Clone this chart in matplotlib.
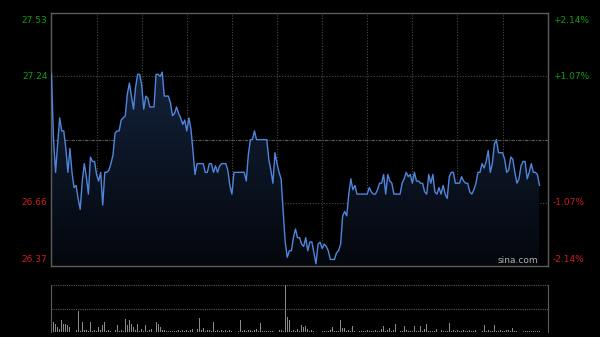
import numpy as np
import matplotlib.pyplot as plt
from matplotlib.patches import Polygon

# minute-by-minute price (one value per minute from the open)
prices = [
    27.25, 26.95, 26.80, 26.93, 27.05, 26.99, 26.99, 26.91, 26.80, 26.91,
    26.80, 26.73, 26.74, 26.68, 26.63, 26.76, 26.84, 26.78, 26.70, 26.87,
    26.85, 26.85, 26.79, 26.76, 26.80, 26.65, 26.80, 26.80, 26.81, 26.84,
    26.88, 26.98, 26.99, 26.99, 27.04, 27.05, 27.06, 27.16, 27.21, 27.15,
    27.09, 27.19, 27.25, 27.25, 27.20, 27.09, 27.15, 27.14, 27.10, 27.10,
    27.10, 27.25, 27.25, 27.24, 27.26, 27.15, 27.15, 27.15, 27.12, 27.06,
    27.07, 27.10, 27.07, 27.05, 27.02, 27.04, 26.99, 27.05, 27.00, 26.90,
    26.79, 26.84, 26.84, 26.84, 26.84, 26.80, 26.80, 26.84, 26.84, 26.80,
    26.83, 26.80, 26.83, 26.84, 26.84, 26.84, 26.81, 26.74, 26.70, 26.80,
    26.80, 26.80, 26.80, 26.80, 26.80, 26.76, 26.88, 26.95, 26.95, 26.99,
    26.95, 26.95, 26.95, 26.95, 26.95, 26.95, 26.86, 26.81, 26.75, 26.89,
    26.84, 26.80, 26.77, 26.62, 26.48, 26.41, 26.44, 26.44, 26.50, 26.54,
    26.50, 26.50, 26.47, 26.46, 26.50, 26.44, 26.48, 26.48, 26.43, 26.38,
    26.47, 26.48, 26.45, 26.47, 26.46, 26.44, 26.40, 26.40, 26.40, 26.43,
    26.44, 26.47, 26.60, 26.62, 26.60, 26.70, 26.77, 26.72, 26.74, 26.70,
    26.70, 26.70, 26.70, 26.70, 26.70, 26.73, 26.71, 26.70, 26.70, 26.72,
    26.75, 26.75, 26.79, 26.70, 26.79, 26.76, 26.75, 26.70, 26.70, 26.70,
    26.70, 26.75, 26.77, 26.80, 26.78, 26.79, 26.75, 26.80, 26.76, 26.76,
    26.75, 26.75, 26.71, 26.70, 26.79, 26.75, 26.79, 26.71, 26.70, 26.73,
    26.70, 26.74, 26.70, 26.68, 26.78, 26.80, 26.80, 26.75, 26.75, 26.75,
    26.78, 26.76, 26.75, 26.75, 26.71, 26.70, 26.72, 26.75, 26.80, 26.80,
    26.84, 26.82, 26.85, 26.90, 26.80, 26.84, 26.93, 26.95, 26.89, 26.89,
    26.89, 26.86, 26.80, 26.81, 26.87, 26.86, 26.80, 26.75, 26.77, 26.83,
    26.85, 26.85, 26.77, 26.80, 26.84, 26.80, 26.80, 26.79, 26.74,
]

# volume per minute (relative units)
volumes = [
    36, 21, 18, 11, 7, 25, 18, 18, 14, 11, 18, 16, 4, 45, 3, 21, 5, 4, 2, 21,
    2, 4, 3, 11, 5, 14, 21, 2, 4, 2, 4, 5, 14, 3, 4, 2, 27, 14, 25, 18,
    11, 5, 18, 3, 7, 2, 14, 3, 5, 7, 3, 21, 18, 11, 5, 4, 2, 2, 2, 2,
    2, 2, 5, 2, 4, 2, 4, 2, 5, 7, 4, 7, 29, 4, 9, 2, 4, 4, 2, 21,
    2, 4, 2, 4, 2, 4, 2, 4, 2, 27, 4, 2, 25, 2, 4, 2, 4, 4, 2, 5,
    7, 2, 19, 2, 2, 2, 2, 2, 2, 2, 4, 5, 4, 3, 100, 32, 25, 3, 4, 2,
    7, 3, 15, 11, 12, 7, 3, 4, 3, 21, 2, 1, 2, 2, 2, 3, 4, 11, 2, 3,
    2, 25, 9, 9, 2, 4, 2, 12, 3, 5, 2, 2, 2, 3, 4, 2, 2, 2, 4, 2,
    2, 7, 12, 2, 4, 9, 2, 5, 18, 7, 2, 2, 12, 4, 2, 2, 2, 12, 2, 2,
    12, 2, 7, 18, 2, 2, 2, 2, 7, 2, 4, 2, 2, 2, 19, 2, 4, 2, 4, 2,
    2, 4, 2, 2, 4, 2, 2, 4, 2, 34, 2, 14, 2, 4, 2, 2, 14, 2, 2, 4,
    2, 2, 5, 4, 2, 9, 2, 2, 2, 2, 2, 2, 2, 2, 2, 2, 2, 2, 2,
]

prev_close = 26.95
price_ticks = [27.53, 27.24, 26.95, 26.66, 26.37]
pct_labels = ["+2.14%", "+1.07%", "", "-1.07%", "-2.14%"]
total_minutes = 242

green = "#129a12"
red = "#cc1f1f"
grid_col = "#4a4a4a"

fig = plt.figure(figsize=(6, 3.37), dpi=100)
fig.patch.set_facecolor("black")

ax = fig.add_axes([0.0858, 0.2107, 0.827, 0.7498])
vax = fig.add_axes([0.0858, 0.0148, 0.827, 0.1395])

x = np.arange(len(prices))
lo, hi = price_ticks[-1], price_ticks[0]

ax.set_facecolor("black")
ax.set_xlim(0, total_minutes)
ax.set_ylim(lo, hi)

# grid
for gx in np.linspace(0, total_minutes, 12)[1:-1]:
    ax.axvline(gx, color=grid_col, lw=0.8, ls=(0, (1, 1.5)), zorder=1)
for p in price_ticks[1:-1]:
    if p == prev_close:
        ax.axhline(p, color="#5a5a5a", lw=0.8, ls=(0, (3, 1, 1, 1)), zorder=1)
    else:
        ax.axhline(p, color=grid_col, lw=0.8, ls=(0, (1, 1.5)), zorder=1)

# gradient fill under the line
verts = [(0, lo)] + list(zip(x, prices)) + [(x[-1], lo)]
poly = Polygon(verts, closed=True, facecolor="none", edgecolor="none")
ax.add_patch(poly)
grad = np.linspace(1, 0, 256).reshape(-1, 1)
from matplotlib.colors import LinearSegmentedColormap
cmap = LinearSegmentedColormap.from_list("fade", ["#04070c", "#13213a"])
im = ax.imshow(grad, extent=[0, x[-1], lo, max(prices)], aspect="auto",
               cmap=cmap, origin="upper", zorder=2)
im.set_clip_path(poly)
ax.set_ylim(lo, hi)
ax.set_xlim(0, total_minutes)

ax.plot(x, prices, color="#4f86dc", lw=1.0, zorder=3)

for s in ax.spines.values():
    s.set_color("#5c5c5c")
    s.set_linewidth(1.0)
ax.set_xticks([])
ax.set_yticks([])

# axis labels
for i, p in enumerate(price_ticks):
    col = green if p > prev_close else red
    if p == prev_close:
        continue
    va = "top" if i == 0 else ("bottom" if i == len(price_ticks) - 1 else "center")
    off = -0.012 if i == 0 else (0.006 if i == len(price_ticks) - 1 else 0)
    ax.text(-0.008, (p - lo) / (hi - lo) + off, f"{p:.2f}", transform=ax.transAxes,
            ha="right", va=va, color=col, fontsize=6.5)
    ax.text(1.01, (p - lo) / (hi - lo) + off, pct_labels[i], transform=ax.transAxes,
            ha="left", va=va, color=col, fontsize=6.5)

ax.text(0.98, 0.005, "sina.com", transform=ax.transAxes, ha="right", va="bottom",
        color="#b0b0b0", fontsize=6.5)

# volume panel
vax.set_facecolor("black")
vax.bar(np.arange(len(volumes)), volumes, width=0.45, color="#8a8a8a", zorder=2)
vax.set_xlim(0, total_minutes)
vax.set_ylim(0, 100)
vax.set_xticks([])
vax.set_yticks([])
for side in ["top", "bottom"]:
    vax.spines[side].set_visible(False)
for side in ["left", "right"]:
    vax.spines[side].set_color("#5c5c5c")
for yv in [0, 50, 100]:
    vax.axhline(yv, color="#5a5a5a", lw=0.8, ls=(0, (1, 1)), zorder=1)

fig.savefig("out.png", dpi=100, facecolor="black")
